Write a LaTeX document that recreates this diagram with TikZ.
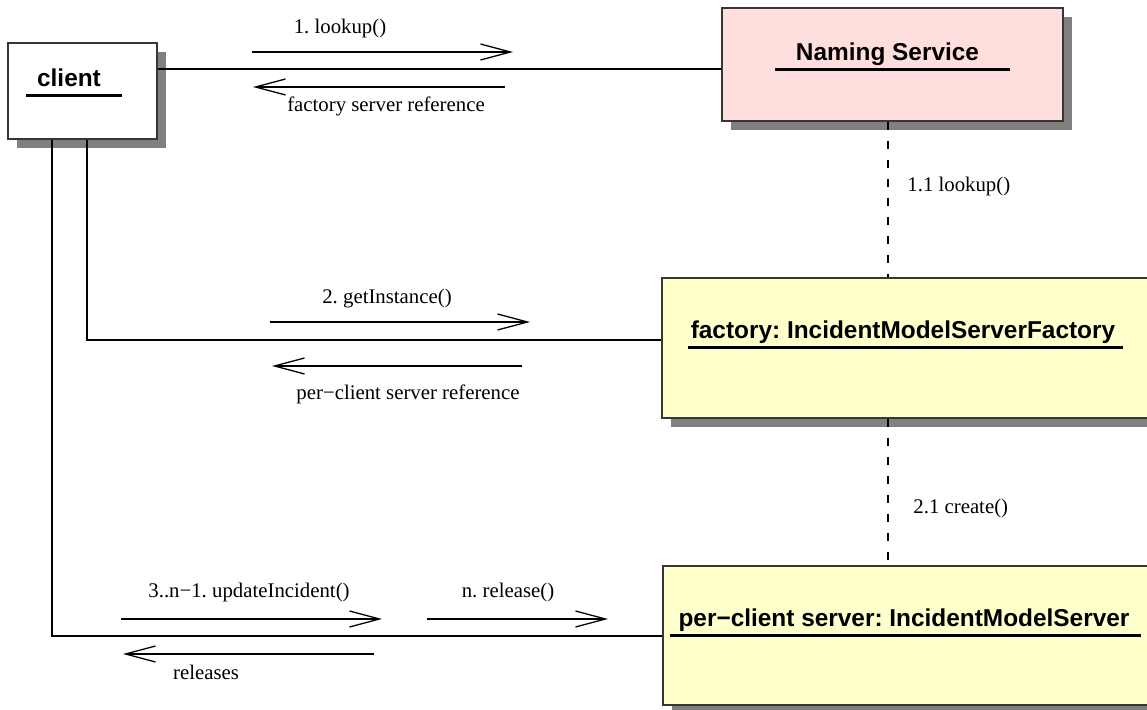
\documentclass[tikz,border=0pt]{standalone}
\usepackage{fontspec}
\setmainfont{Liberation Serif}
\setsansfont{Liberation Sans}
\usetikzlibrary{arrows.meta,shadows}
\definecolor{nspink}{RGB}{255,222,222}
\definecolor{objyellow}{RGB}{255,255,204}
\definecolor{shadowgray}{RGB}{128,128,128}
\definecolor{edgegray}{RGB}{55,55,55}
\begin{document}
\frenchspacing
\begin{tikzpicture}[x=0.5pt,y=-0.5pt,
  obj/.style={rectangle, draw=edgegray, line width=0.6pt, inner sep=0pt,
    drop shadow={shadow xshift=4.5pt, shadow yshift=-4.5pt, fill=shadowgray, opacity=1}},
  title/.style={font=\fontsize{12.2pt}{14pt}\sffamily\bfseries, inner sep=0pt, anchor=base},
  uline/.style={line width=1.5pt},
  lbl/.style={font=\fontsize{10.4pt}{12pt}\selectfont, inner sep=0pt, anchor=base},
  link/.style={line width=0.7pt},
  dlink/.style={line width=0.8pt, dash pattern=on 4pt off 5.5pt},
  msg/.style={line width=0.65pt, -{Straight Barb[length=15pt,width=8pt,line width=0.65pt]}}]
\useasboundingbox (0,0) rectangle (1147,710);
\clip (0,0) rectangle (1147,710);

% objects
\node[obj, fill=white, minimum width=74.5pt, minimum height=48pt] (client) at (82.5,91) {};
\node[obj, fill=nspink, minimum width=170.5pt, minimum height=56.5pt] (ns) at (892.5,64.5) {};
\node[obj, fill=objyellow, minimum width=245pt, minimum height=70pt] (fac) at (907,348) {};
\node[obj, fill=objyellow, minimum width=244.5pt, minimum height=69.5pt] (pcs) at (907.5,635.5) {};

% object names, underlined
\node[title] (clientname) at (69,87) {client};
\draw[uline] (26,96) -- (122,96);
\node[title] (nsname) at (887.5,61) {Naming Service};
\draw[uline] (775,70) -- (1010,70);
\node[title] (facname) at (903,339) {factory: IncidentModelServerFactory};
\draw[uline] (688,348) -- (1123,348);
\node[title] (pcsname) at (904,627) {per−client server: IncidentModelServer};
\draw[uline] (670,636) -- (1141,636);

% links between objects
\coordinate (nsY) at (0,69);
\coordinate (facY) at (87,340);
\coordinate (pcsY) at (52,636);
\coordinate (dX) at (888,0);
\draw[link] (client.east |- nsY) -- (ns.west |- nsY);
\draw[link] (client.south -| facY) |- (fac.west |- facY);
\draw[link] (client.south -| pcsY) |- (pcs.west |- pcsY);
\draw[dlink] (ns.south -| dX) -- (fac.north -| dX);
\draw[dlink] (fac.south -| dX) -- (pcs.north -| dX);

% messages
\coordinate (m1a) at (252,52);  \coordinate (m1b) at (513,52);
\coordinate (r1a) at (505,87);  \coordinate (r1b) at (253,87);
\coordinate (m2a) at (270,322); \coordinate (m2b) at (530,322);
\coordinate (r2a) at (522,366); \coordinate (r2b) at (272,366);
\coordinate (m3a) at (121,619); \coordinate (m3b) at (382,619);
\coordinate (mna) at (427,619); \coordinate (mnb) at (608,619);
\coordinate (r3a) at (374,654); \coordinate (r3b) at (123,654);
\draw[msg] (m1a) -- (m1b);
\draw[msg] (r1a) -- (r1b);
\draw[msg] (m2a) -- (m2b);
\draw[msg] (r2a) -- (r2b);
\draw[msg] (m3a) -- (m3b);
\draw[msg] (mna) -- (mnb);
\draw[msg] (r3a) -- (r3b);

% message labels
\node[lbl] (l1) at (340,34) {1. lookup()};
\node[lbl] (l1r) at (386,112) {factory server reference};
\node[lbl] (l11) at (907,192) [anchor=base west] {1.1 lookup()};
\node[lbl] (l2) at (387,304) {2. getInstance()};
\node[lbl] (l2r) at (408,400) {per−client server reference};
\node[lbl] (l21) at (913,514) [anchor=base west] {2.1 create()};
\node[lbl] (l3) at (249,598) {3..n−1. updateIncident()};
\node[lbl] (ln) at (508,598) {n. release()};
\node[lbl] (l3r) at (206,680) {releases};
\end{tikzpicture}
\end{document}
